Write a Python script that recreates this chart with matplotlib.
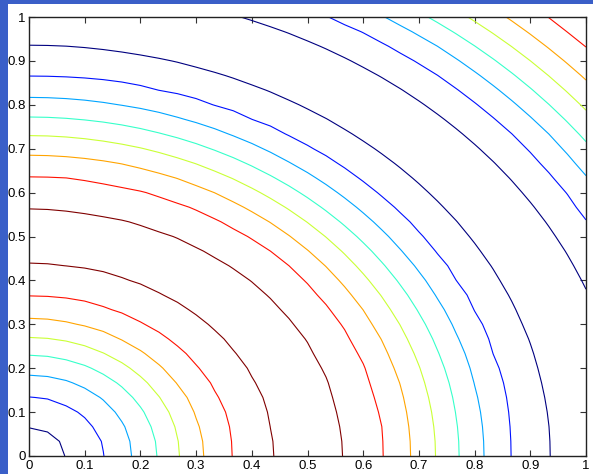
import numpy as np
import matplotlib
matplotlib.use('Agg')
import matplotlib.pyplot as plt
from matplotlib.patches import Rectangle
from matplotlib.colors import LinearSegmentedColormap

# contour radii (lines are quarter circles about the origin)
# inner rising side, level 1 (dark blue) .. level 8 (dark red)
rise_r = [0.064, 0.135, 0.185, 0.230, 0.270, 0.312, 0.364, 0.438]
# falling side, level 8 .. level 1
fall_r = [0.564, 0.637, 0.686, 0.730, 0.772, 0.816, 0.865, 0.936]
# rising again in the top right corner, level 1 .. level 7
outer_r = [1.070, 1.136, 1.187, 1.230, 1.273, 1.316, 1.365]
levels = [1, 2, 3, 4, 5, 6, 7, 8]

tick_vals = [0, 0.1, 0.2, 0.3, 0.4, 0.5, 0.6, 0.7, 0.8, 0.9, 1]
tick_labels = ['0', '0.1', '0.2', '0.3', '0.4', '0.5', '0.6', '0.7', '0.8', '0.9', '1']

# radial profile through the read radii
prof_r = [0.0] + rise_r + [0.5] + fall_r + [1.0] + outer_r + [1.45]
prof_v = [0] + levels + [8.6] + levels[::-1] + [0] + levels[:7] + [7.7]

n = 31
x = np.linspace(0, 1, n)
y = np.linspace(0, 1, n)
X, Y = np.meshgrid(x, y)
R = np.sqrt(X**2 + Y**2)
Z = np.interp(R, prof_r, prof_v)

# matlab style jet
mjet = LinearSegmentedColormap('mjet', {
    'red':   [(0, 0, 0), (0.375, 0, 0), (0.625, 1, 1), (0.875, 1, 1), (1, 0.5, 0.5)],
    'green': [(0, 0, 0), (0.125, 0, 0), (0.375, 1, 1), (0.625, 1, 1), (0.875, 0, 0), (1, 0, 0)],
    'blue':  [(0, 0.5, 0.5), (0.125, 1, 1), (0.375, 1, 1), (0.625, 0, 0), (1, 0, 0)],
})

plt.rcParams['font.family'] = ['Liberation Sans', 'DejaVu Sans']
fig = plt.figure(figsize=(5.93, 4.74), dpi=100)
fig.patch.set_facecolor('white')

# blue strip of the window frame at left and top
fig.patches.append(Rectangle((0, 0), 8 / 593, 1, transform=fig.transFigure,
                             facecolor='#3a5fc8', edgecolor='none', zorder=0))
fig.patches.append(Rectangle((0, 1 - 4 / 474), 1, 4 / 474, transform=fig.transFigure,
                             facecolor='#3a5fc8', edgecolor='none', zorder=0))

ax = fig.add_axes([29 / 593, 18 / 474, 557 / 593, 439 / 474])
ax.contour(X, Y, Z, levels=levels, cmap=mjet, linewidths=0.8)

ax.set_xlim(0, 1)
ax.set_ylim(0, 1)
ax.set_xticks(tick_vals)
ax.set_xticklabels(tick_labels)
ax.set_yticks(tick_vals)
ax.set_yticklabels(tick_labels)
ax.tick_params(direction='in', top=True, right=True, length=4, width=0.8,
               labelsize=9.5, pad=3, color='#333333')
ax.tick_params(axis='y', pad=2.5)
for s in ax.spines.values():
    s.set_linewidth(1.0)
    s.set_color('#222222')

fig.savefig('out.png', dpi=100)
